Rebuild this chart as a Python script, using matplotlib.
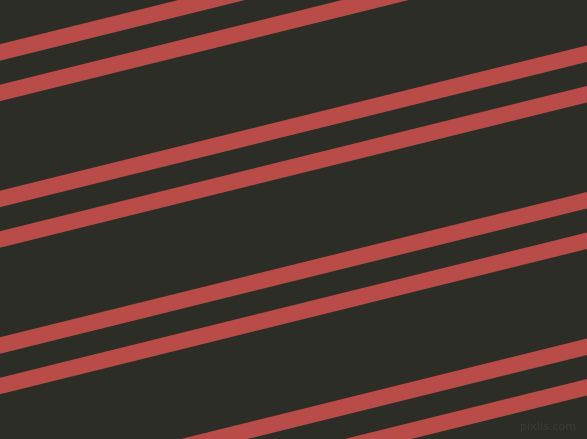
import matplotlib
matplotlib.use("Agg")
import matplotlib.pyplot as plt
import numpy as np

# Stripe centre lines: y at left edge (x=0), in pixels from top
left_intercepts = [52.5, 93, 199, 239.5, 345.5, 386, 492, 532.5]
slope = 0.2474          # rise per pixel (lines go up to the right)
width_px, height_px = 587, 439

bg_color = "#2b2d26"
stripe_color = "#b94c48"
stripe_height = 16.5    # vertical thickness in pixels

fig = plt.figure(figsize=(width_px / 100, height_px / 100 + 0.001), dpi=100)
fig.patch.set_facecolor(bg_color)
ax = fig.add_axes([0, 0, 1, 1])
ax.set_facecolor(bg_color)
ax.set_xlim(0, width_px)
ax.set_ylim(height_px, 0)
ax.axis("off")

xs = np.array([-20.0, width_px + 20.0])
for c in left_intercepts:
    yc = c - slope * xs
    ax.fill_between(xs, yc - stripe_height / 2, yc + stripe_height / 2,
                    color=stripe_color, lw=0)

ax.text(576, 430, "pixlis.com", color="#3a3c35", fontsize=8, ha="right",
        va="baseline", family="DejaVu Sans")

fig.savefig("out.png", dpi=100, facecolor=bg_color)
